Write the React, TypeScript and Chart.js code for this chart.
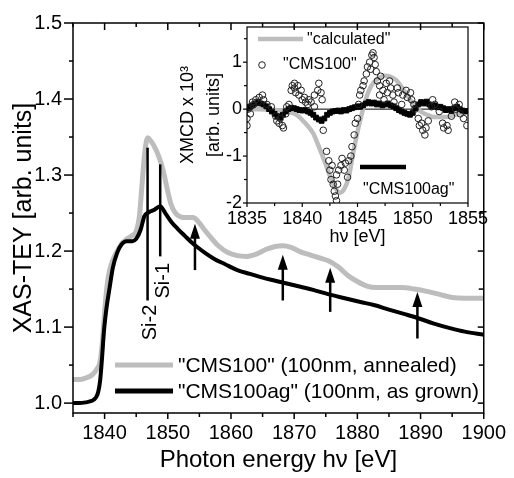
import React, { useEffect, useRef } from 'react';
import { Chart, registerables } from 'chart.js';
Chart.register(...registerables);

const FONT = "'Liberation Sans', Arial, Helvetica, sans-serif";
Chart.defaults.font.family = FONT;
Chart.defaults.color = '#000';

// ---------- main chart data ----------
const grayEnergy = [1835, 1836, 1837, 1838, 1838.8, 1839.3, 1839.7, 1840.0, 1840.4, 1840.8, 1841.3, 1842.0, 1842.7, 1843.4, 1844.3, 1845.0, 1845.5, 1845.9, 1846.3, 1846.8, 1847.3, 1847.9, 1848.6, 1849.3, 1849.9, 1850.5, 1851.2, 1852.0, 1853.0, 1854.0, 1854.8, 1855.8, 1856.8, 1858.0, 1859.5, 1861.0, 1862.5, 1864.0, 1865.5, 1867.0, 1868.2, 1869.5, 1871.0, 1872.5, 1874.0, 1875.5, 1877.0, 1878.5, 1880.0, 1881.5, 1883.0, 1885.0, 1887.0, 1889.0, 1891.0, 1893.0, 1895.0, 1897.0, 1900.0];
const grayValues = [1.031, 1.031, 1.033, 1.037, 1.045, 1.055, 1.085, 1.12, 1.155, 1.175, 1.188, 1.2, 1.21, 1.215, 1.22, 1.226, 1.245, 1.285, 1.325, 1.349, 1.345, 1.337, 1.324, 1.305, 1.282, 1.262, 1.25, 1.245, 1.244, 1.244, 1.239, 1.228, 1.218, 1.207, 1.198, 1.194, 1.193, 1.196, 1.202, 1.206, 1.207, 1.205, 1.199, 1.195, 1.191, 1.187, 1.179, 1.168, 1.16, 1.154, 1.152, 1.152, 1.152, 1.15, 1.147, 1.143, 1.139, 1.138, 1.138];
const blackEnergy = [1835, 1836, 1837, 1838, 1838.6, 1839.0, 1839.3, 1839.6, 1839.9, 1840.3, 1840.8, 1841.3, 1842.0, 1842.7, 1843.5, 1844.4, 1845.0, 1845.7, 1846.3, 1847.0, 1847.8, 1848.8, 1849.6, 1850.6, 1851.6, 1852.7, 1853.7, 1854.7, 1856.0, 1857.5, 1859.0, 1861.0, 1863.0, 1865.0, 1867.0, 1869.0, 1871.0, 1873.0, 1875.5, 1878.0, 1880.5, 1882.6, 1885.0, 1887.5, 1889.5, 1892.0, 1894.5, 1897.0, 1900.0];
const blackValues = [1.0, 1.0, 1.001, 1.003, 1.007, 1.015, 1.03, 1.06, 1.095, 1.125, 1.152, 1.178, 1.198, 1.209, 1.213, 1.213, 1.216, 1.228, 1.246, 1.251, 1.254, 1.259, 1.25, 1.238, 1.229, 1.22, 1.212, 1.205, 1.197, 1.189, 1.183, 1.175, 1.17, 1.165, 1.161, 1.157, 1.153, 1.149, 1.143, 1.138, 1.133, 1.129, 1.123, 1.117, 1.112, 1.105, 1.099, 1.094, 1.09];

const mainXTicks = [1840, 1850, 1860, 1870, 1880, 1890, 1900];
const mainXMinor = [1835, 1845, 1855, 1865, 1875, 1885, 1895];
const mainYTicks = [1.0, 1.1, 1.2, 1.3, 1.4, 1.5];
const mainYMinor = [1.05, 1.15, 1.25, 1.35, 1.45];

const siLabels = ['Si-2', 'Si-1'];
const siEnergy = [1846.8, 1848.8];
const siTop = [1.336, 1.314];
const siBottom = [1.135, 1.193];
const siLabelCenter = [1.106, 1.161];

const arrowEnergy = [1854.3, 1868.2, 1875.7, 1889.5];
const arrowTip = [1.236, 1.195, 1.178, 1.146];
const arrowBase = [1.175, 1.135, 1.12, 1.085];

const legendLabels = ['"CMS100" (100nm, annealed)', '"CMS100ag" (100nm, as grown)'];
const GRAY = '#bdbdbd';

// ---------- inset data ----------
const calcEnergy = [1835, 1836, 1837, 1838, 1838.8, 1839.5, 1840.2, 1841.0, 1841.5, 1842.0, 1842.5, 1843.0, 1843.4, 1843.8, 1844.2, 1844.6, 1845.0, 1845.5, 1846.0, 1846.5, 1847.0, 1847.5, 1848.0, 1848.5, 1849.0, 1849.5, 1850.0, 1850.5, 1851.0, 1851.5, 1852.0, 1853.0, 1854.0, 1855.0];
const calcValues = [0, 0, -0.01, -0.03, -0.06, -0.12, -0.28, -0.52, -0.8, -1.1, -1.42, -1.68, -1.78, -1.7, -1.45, -0.95, -0.48, 0.0, 0.38, 0.58, 0.67, 0.71, 0.69, 0.62, 0.47, 0.29, 0.12, -0.01, -0.09, -0.14, -0.17, -0.17, -0.11, -0.04];

const cmsEnergy = [1835.0, 1835.0, 1835.1, 1835.3, 1835.3, 1835.5, 1835.6, 1835.8, 1836.0, 1836.1, 1836.4, 1836.5, 1836.8, 1837.2, 1837.6, 1837.7, 1837.9, 1838.0, 1838.2, 1838.3, 1838.5, 1838.6, 1838.8, 1839.0, 1839.1, 1839.3, 1839.3, 1839.4, 1839.6, 1839.7, 1839.9, 1840.0, 1840.2, 1840.3, 1840.5, 1840.6, 1840.8, 1841.1, 1841.1, 1841.4, 1841.5, 1841.7, 1841.8, 1841.9, 1842.2, 1842.4, 1842.5, 1842.6, 1842.7, 1842.8, 1842.9, 1843.0, 1843.1, 1843.1, 1843.2, 1843.3, 1843.5, 1843.6, 1843.8, 1843.9, 1844.1, 1844.2, 1844.4, 1844.5, 1844.7, 1844.8, 1845.0, 1845.1, 1845.2, 1845.3, 1845.5, 1845.6, 1845.8, 1845.9, 1846.1, 1846.2, 1846.3, 1846.4, 1846.5, 1846.6, 1846.7, 1846.8, 1847.0, 1847.0, 1847.1, 1847.3, 1847.4, 1847.6, 1847.7, 1847.9, 1848.0, 1848.2, 1848.3, 1848.6, 1848.7, 1849.0, 1849.1, 1849.4, 1849.5, 1849.8, 1849.9, 1850.1, 1850.2, 1850.5, 1850.6, 1850.8, 1850.9, 1851.1, 1851.2, 1851.4, 1851.7, 1851.8, 1852.0, 1852.4, 1852.7, 1852.8, 1853.1, 1853.2, 1853.5, 1853.8, 1853.9, 1854.2, 1854.3, 1854.6, 1854.9];
const cmsValues = [-0.35, -0.2, 0.0, -0.1, 0.05, 0.15, 0.1, 0.2, 0.15, 0.25, 0.3, 0.2, 0.1, 0.05, -0.15, -0.25, -0.3, -0.2, -0.35, -0.4, -0.1, 0.05, 0.1, 0.4, 0.5, 0.55, 0.45, 0.35, 0.5, 0.3, 0.4, 0.2, 0.25, 0.15, 0.1, 0.2, 0.15, 0.3, 0.05, 0.4, 0.55, 0.35, 0.2, -0.45, -0.9, -1.1, -1.3, -1.5, -1.2, -1.6, -1.75, -1.85, -1.95, -1.4, -1.6, -1.3, -1.2, -1.05, -1.3, -1.15, -1.45, -1.1, -1.0, -0.8, -0.55, -0.3, -0.2, 0.1, 0.3, 0.4, 0.5, 0.6, 0.75, 0.9, 1.0, 0.85, 1.15, 1.2, 1.1, 0.95, 0.8, 0.6, 0.5, 0.3, 0.7, 0.4, 0.2, 0.55, 0.35, 0.6, 0.45, 0.3, 0.15, 0.45, 0.35, 0.1, 0.3, 0.4, 0.25, 0.35, 0.2, 0.1, 0.0, -0.2, -0.35, -0.3, -0.45, -0.55, -0.4, -0.25, 0.05, 0.2, 0.1, -0.05, -0.3, -0.4, -0.35, -0.45, -0.15, 0.15, 0.0, 0.1, -0.1, -0.2, -0.35];

const agEnergy = [1835.0, 1835.25, 1835.5, 1835.75, 1836.0, 1836.25, 1836.5, 1836.75, 1837.0, 1837.25, 1837.5, 1837.75, 1838.0, 1838.25, 1838.5, 1838.75, 1839.0, 1839.25, 1839.5, 1839.75, 1840.0, 1840.25, 1840.5, 1840.75, 1841.0, 1841.25, 1841.5, 1841.75, 1842.0, 1842.25, 1842.5, 1842.75, 1843.0, 1843.25, 1843.5, 1843.75, 1844.0, 1844.25, 1844.5, 1844.75, 1845.0, 1845.25, 1845.5, 1845.75, 1846.0, 1846.25, 1846.5, 1846.75, 1847.0, 1847.25, 1847.5, 1847.75, 1848.0, 1848.25, 1848.5, 1848.75, 1849.0, 1849.25, 1849.5, 1849.75, 1850.0, 1850.25, 1850.5, 1850.75, 1851.0, 1851.25, 1851.5, 1851.75, 1852.0, 1852.25, 1852.5, 1852.75, 1853.0, 1853.25, 1853.5, 1853.75, 1854.0, 1854.25, 1854.5, 1854.75, 1855.0];
const agValues = [0.02, 0.05, 0.08, 0.12, 0.15, 0.12, 0.1, 0.06, 0.0, -0.05, -0.1, -0.15, -0.18, -0.12, -0.05, 0.0, 0.03, 0.02, 0.0, -0.02, -0.03, -0.02, -0.05, -0.08, -0.12, -0.18, -0.22, -0.25, -0.2, -0.12, -0.08, -0.05, -0.04, -0.03, -0.05, -0.02, -0.03, 0.0, 0.02, 0.04, 0.06, 0.05, 0.08, 0.12, 0.15, 0.12, 0.14, 0.1, 0.12, 0.08, 0.1, 0.12, 0.08, 0.06, 0.02, -0.02, -0.05, -0.08, -0.1, -0.12, -0.08, 0.02, 0.1, 0.15, 0.12, 0.16, 0.1, 0.06, 0.08, 0.04, 0.05, 0.02, -0.02, 0.0, -0.04, 0.02, 0.05, 0.0, -0.03, -0.05, -0.04];

const insetXTicks = [1835, 1840, 1845, 1850, 1855];
const insetXMinor = [1837.5, 1842.5, 1847.5, 1852.5];
const insetYTicks = [-2, -1, 0, 1];
const insetYMinor = [-1.5, -0.5, 0.5, 1.5];
const insetLegend = ['"calculated"', '"CMS100"', '"CMS100ag"'];

function seg(ctx: CanvasRenderingContext2D, x1: number, y1: number, x2: number, y2: number) {
  ctx.beginPath();
  ctx.moveTo(x1, y1);
  ctx.lineTo(x2, y2);
  ctx.stroke();
}

const mainDecor = {
  id: 'mainDecor',
  afterDatasetsDraw(chart: any) {
    const { ctx, chartArea: a, scales } = chart;
    const x = scales.x, y = scales.y;
    ctx.save();
    ctx.strokeStyle = '#000';
    ctx.fillStyle = '#000';
    ctx.lineWidth = 1.5;
    ctx.strokeRect(a.left, a.top, a.right - a.left, a.bottom - a.top);
    mainXTicks.forEach((v) => {
      const px = x.getPixelForValue(v);
      seg(ctx, px, a.bottom, px, a.bottom + 6);
      seg(ctx, px, a.top, px, a.top + 7);
    });
    mainXMinor.forEach((v) => {
      const px = x.getPixelForValue(v);
      seg(ctx, px, a.bottom, px, a.bottom + 4);
      seg(ctx, px, a.top, px, a.top + 4);
    });
    mainYTicks.forEach((v) => {
      const py = y.getPixelForValue(v);
      seg(ctx, a.left - 9, py, a.left, py);
      seg(ctx, a.right - 6, py, a.right, py);
    });
    mainYMinor.forEach((v) => {
      const py = y.getPixelForValue(v);
      seg(ctx, a.left - 4, py, a.left, py);
      seg(ctx, a.right - 5, py, a.right, py);
    });

    // Si lines + labels
    ctx.lineWidth = 2.5;
    ctx.font = `20px ${FONT}`;
    ctx.textAlign = 'center';
    ctx.textBaseline = 'middle';
    siEnergy.forEach((e, i) => {
      const px = x.getPixelForValue(e);
      seg(ctx, px, y.getPixelForValue(siTop[i]), px, y.getPixelForValue(siBottom[i]));
      ctx.save();
      ctx.translate(px + 3, y.getPixelForValue(siLabelCenter[i]));
      ctx.rotate(-Math.PI / 2);
      ctx.fillText(siLabels[i], 0, 0);
      ctx.restore();
    });

    // arrows
    arrowEnergy.forEach((e, i) => {
      const px = x.getPixelForValue(e);
      const pt = y.getPixelForValue(arrowTip[i]);
      const pb = y.getPixelForValue(arrowBase[i]);
      const head = 15, hw = 5;
      ctx.lineWidth = 2.5;
      seg(ctx, px, pb, px, pt + head - 2);
      ctx.beginPath();
      ctx.moveTo(px, pt);
      ctx.lineTo(px - hw, pt + head);
      ctx.lineTo(px + hw, pt + head);
      ctx.closePath();
      ctx.fill();
    });

    // legend
    ctx.textAlign = 'left';
    ctx.font = `21px ${FONT}`;
    const colors = [GRAY, '#000'];
    const rowY = [a.bottom - 48, a.bottom - 22];
    legendLabels.forEach((t, i) => {
      ctx.strokeStyle = colors[i];
      ctx.lineWidth = 5;
      seg(ctx, a.left + 42, rowY[i], a.left + 100, rowY[i]);
      ctx.fillStyle = '#000';
      ctx.fillText(t, a.left + 105, rowY[i] + 1);
    });
    ctx.restore();
  },
};

const insetDecor = {
  id: 'insetDecor',
  beforeDatasetsDraw(chart: any) {
    const { ctx, chartArea: a, scales } = chart;
    const py = scales.y.getPixelForValue(0);
    ctx.save();
    ctx.strokeStyle = '#000';
    ctx.lineWidth = 1;
    seg(ctx, a.left, py, a.right, py);
    ctx.restore();
  },
  afterDatasetsDraw(chart: any) {
    const { ctx, chartArea: a, scales } = chart;
    const x = scales.x, y = scales.y;
    ctx.save();
    ctx.strokeStyle = '#000';
    ctx.fillStyle = '#000';
    ctx.lineWidth = 1.2;
    ctx.strokeRect(a.left, a.top, a.right - a.left, a.bottom - a.top);
    insetXTicks.forEach((v) => {
      const px = x.getPixelForValue(v);
      seg(ctx, px, a.bottom, px, a.bottom + 4);
    });
    insetXMinor.forEach((v) => {
      const px = x.getPixelForValue(v);
      seg(ctx, px, a.bottom, px, a.bottom + 3);
    });
    insetYTicks.forEach((v) => {
      const py = y.getPixelForValue(v);
      seg(ctx, a.left - 4, py, a.left, py);
    });
    insetYMinor.forEach((v) => {
      const py = y.getPixelForValue(v);
      seg(ctx, a.left - 3, py, a.left, py);
    });

    // legend
    ctx.font = `16px ${FONT}`;
    ctx.textAlign = 'left';
    ctx.textBaseline = 'middle';
    ctx.strokeStyle = GRAY;
    ctx.lineWidth = 4.5;
    seg(ctx, a.left + 11, a.top + 12, a.left + 56, a.top + 12);
    ctx.fillText(insetLegend[0], a.left + 60, a.top + 13);
    ctx.strokeStyle = '#222';
    ctx.lineWidth = 1;
    ctx.beginPath();
    ctx.arc(a.left + 15, a.top + 38, 3.3, 0, Math.PI * 2);
    ctx.stroke();
    ctx.fillText(insetLegend[1], a.left + 36, a.top + 38);
    ctx.strokeStyle = '#000';
    ctx.lineWidth = 4.5;
    seg(ctx, a.left + 113, a.top + 140, a.left + 159, a.top + 140);
    ctx.fillText(insetLegend[2], a.left + 116, a.top + 163);
    ctx.restore();
  },
};

export default function App() {
  const mainRef = useRef<HTMLCanvasElement>(null);
  const insetRef = useRef<HTMLCanvasElement>(null);

  useEffect(() => {
    const main = new Chart(mainRef.current as HTMLCanvasElement, {
      type: 'line',
      data: {
        datasets: [
          {
            label: legendLabels[1],
            data: blackEnergy.map((e, i) => ({ x: e, y: blackValues[i] })),
            borderColor: '#000',
            borderWidth: 4,
            pointRadius: 0,
            cubicInterpolationMode: 'monotone',
            fill: false,
          },
          {
            label: legendLabels[0],
            data: grayEnergy.map((e, i) => ({ x: e, y: grayValues[i] })),
            borderColor: GRAY,
            borderWidth: 5,
            pointRadius: 0,
            cubicInterpolationMode: 'monotone',
            fill: false,
          },
        ],
      },
      options: {
        responsive: false,
        animation: false,
        layout: { padding: { left: 0, top: 15, right: 22, bottom: 0 }, autoPadding: false },
        plugins: { legend: { display: false }, tooltip: { enabled: false } },
        scales: {
          x: {
            type: 'linear',
            min: 1835,
            max: 1900,
            grid: { display: false, drawTicks: false },
            border: { display: false },
            afterBuildTicks: (s: any) => { s.ticks = mainXTicks.map((v) => ({ value: v })); },
            afterFit: (s: any) => { s.height = 65; },
            ticks: { font: { size: 20 }, padding: 8, maxRotation: 0, autoSkip: false, color: '#000', callback: (v: any) => String(v) },
            title: { display: true, text: 'Photon energy hν [eV]', font: { size: 24 }, padding: { top: 0, bottom: 3 }, color: '#000' },
          },
          y: {
            type: 'linear',
            min: 0.987,
            max: 1.5,
            grid: { display: false, drawTicks: false },
            border: { display: false },
            afterBuildTicks: (s: any) => { s.ticks = mainYTicks.map((v) => ({ value: v })); },
            afterFit: (s: any) => { s.width = 73; },
            ticks: { font: { size: 20 }, padding: 11, autoSkip: false, color: '#000', callback: (v: any) => Number(v).toFixed(1) },
            title: { display: true, text: 'XAS-TEY [arb. units]', font: { size: 25 }, padding: { top: 9, bottom: 0 }, color: '#000' },
          },
        },
      } as any,
      plugins: [mainDecor],
    } as any);

    const inset = new Chart(insetRef.current as HTMLCanvasElement, {
      type: 'scatter',
      data: {
        datasets: [
          {
            label: insetLegend[1],
            data: cmsEnergy.map((e, i) => ({ x: e, y: cmsValues[i] })),
            pointStyle: 'circle',
            pointRadius: 3.3,
            borderWidth: 1,
            borderColor: '#222',
            backgroundColor: 'rgba(0,0,0,0)',
            showLine: false,
          },
          {
            label: insetLegend[2],
            data: agEnergy.map((e, i) => ({ x: e, y: agValues[i] })),
            pointStyle: 'rect',
            pointRadius: 3.4,
            borderWidth: 1,
            borderColor: '#000',
            backgroundColor: '#000',
            showLine: false,
          },
          {
            label: insetLegend[0],
            data: calcEnergy.map((e, i) => ({ x: e, y: calcValues[i] })),
            showLine: true,
            pointRadius: 0,
            borderColor: GRAY,
            borderWidth: 4.5,
            cubicInterpolationMode: 'monotone',
            fill: false,
          },
        ],
      },
      options: {
        responsive: false,
        animation: false,
        layout: { padding: { left: 170, top: 27, right: 46, bottom: 228 }, autoPadding: false },
        plugins: { legend: { display: false }, tooltip: { enabled: false } },
        scales: {
          x: {
            type: 'linear',
            min: 1835,
            max: 1855,
            grid: { display: false, drawTicks: false },
            border: { display: false },
            afterBuildTicks: (s: any) => { s.ticks = insetXTicks.map((v) => ({ value: v })); },
            afterFit: (s: any) => { s.height = 47; },
            ticks: { font: { size: 18 }, padding: 5, maxRotation: 0, autoSkip: false, color: '#000', callback: (v: any) => String(v) },
            title: { display: true, text: 'hν [eV]', font: { size: 18 }, padding: { top: 0, bottom: 2 }, color: '#000' },
          },
          y: {
            type: 'linear',
            min: -2,
            max: 1.75,
            grid: { display: false, drawTicks: false },
            border: { display: false },
            afterBuildTicks: (s: any) => { s.ticks = insetYTicks.map((v) => ({ value: v })); },
            afterFit: (s: any) => { s.width = 77; },
            ticks: { font: { size: 18 }, padding: 5, autoSkip: false, color: '#000', callback: (v: any) => String(v) },
            title: { display: true, text: ['XMCD x 10³', '[arb. units]'], font: { size: 18, lineHeight: 1.45 }, padding: { top: 5, bottom: 0 }, color: '#000' },
          },
        },
      } as any,
      plugins: [insetDecor],
    } as any);

    return () => {
      main.destroy();
      inset.destroy();
    };
  }, []);

  return (
    <div style={{ position: 'fixed', left: 0, top: 0, width: 514, height: 478, background: '#fff' }}>
      <canvas ref={mainRef} width={514} height={478} style={{ position: 'absolute', left: 0, top: 0, display: 'block' }} />
      <canvas ref={insetRef} width={514} height={478} style={{ position: 'absolute', left: 0, top: 0, display: 'block', pointerEvents: 'none' }} />
    </div>
  );
}
